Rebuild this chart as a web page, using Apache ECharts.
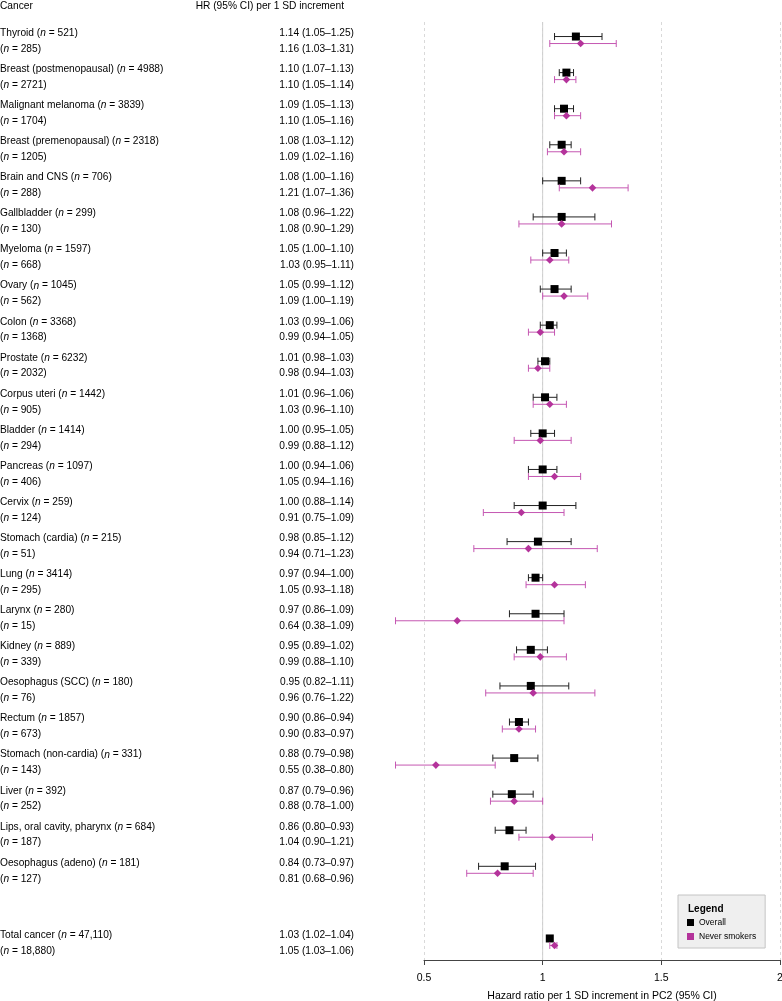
<!DOCTYPE html>
<html><head><meta charset="utf-8">
<script src="https://cdn.jsdelivr.net/npm/echarts@6/dist/echarts.min.js"></script>
<style>html,body{margin:0;padding:0;background:#fff}#c{width:782px;height:1001px}</style>
</head><body><div id="c"></div>
<script>
const cancers = ['Thyroid','Breast (postmenopausal)','Malignant melanoma','Breast (premenopausal)','Brain and CNS','Gallbladder','Myeloma','Ovary','Colon','Prostate','Corpus uteri','Bladder','Pancreas','Cervix','Stomach (cardia)','Lung','Larynx','Kidney','Oesophagus (SCC)','Rectum','Stomach (non-cardia)','Liver','Lips, oral cavity, pharynx','Oesophagus (adeno)','Total cancer'];
const nOverall = [521,4988,3839,2318,706,299,1597,1045,3368,6232,1442,1414,1097,259,215,3414,280,889,180,1857,331,392,684,181,47110];
const nNever   = [285,2721,1704,1205,288,130,668,562,1368,2032,905,294,406,124,51,295,15,339,76,673,143,252,187,127,18880];
const hrOverall = [1.14,1.10,1.09,1.08,1.08,1.08,1.05,1.05,1.03,1.01,1.01,1.00,1.00,1.00,0.98,0.97,0.97,0.95,0.95,0.90,0.88,0.87,0.86,0.84,1.03];
const loOverall = [1.05,1.07,1.05,1.03,1.00,0.96,1.00,0.99,0.99,0.98,0.96,0.95,0.94,0.88,0.85,0.94,0.86,0.89,0.82,0.86,0.79,0.79,0.80,0.73,1.02];
const hiOverall = [1.25,1.13,1.13,1.12,1.16,1.22,1.10,1.12,1.06,1.03,1.06,1.05,1.06,1.14,1.12,1.00,1.09,1.02,1.11,0.94,0.98,0.96,0.93,0.97,1.04];
const hrNever = [1.16,1.10,1.10,1.09,1.21,1.08,1.03,1.09,0.99,0.98,1.03,0.99,1.05,0.91,0.94,1.05,0.64,0.99,0.96,0.90,0.55,0.88,1.04,0.81,1.05];
const loNever = [1.03,1.05,1.05,1.02,1.07,0.90,0.95,1.00,0.94,0.94,0.96,0.88,0.94,0.75,0.71,0.93,0.38,0.88,0.76,0.83,0.38,0.78,0.90,0.68,1.03];
const hiNever = [1.31,1.14,1.16,1.16,1.36,1.29,1.11,1.19,1.05,1.03,1.10,1.12,1.16,1.09,1.23,1.18,1.09,1.10,1.22,0.97,0.80,1.00,1.21,0.96,1.06];
const xTicks = [0.5, 1, 1.5, 2];
const refValue = 1;
const seriesNames = ['Overall', 'Never smokers'];

// category rows: one blank slot before the total
const nC = cancers.length;
const rowCats = cancers.slice(0, -1).concat([' '], cancers.slice(-1));
const rowToCancer = rowCats.map((c, r) => r < nC - 1 ? r : (r === nC - 1 ? -1 : nC - 1));
const cancerRow = cancers.map((c, i) => i < nC - 1 ? i : i + 1);

const FONT = '"Liberation Sans", Arial, Helvetica, sans-serif';
const BLACK = '#000000', MAG = '#b4339b', MAGLINE = '#c557b2';
const FS = 10.2;
const fmtN = n => n >= 10000 ? n.toLocaleString('en-US') : String(n);
const f2 = v => v.toFixed(2);
const fmtHR = (h, l, u) => f2(h) + ' (' + f2(l) + '\u2013' + f2(u) + ')';

const chart = echarts.init(document.getElementById('c'), null, {renderer: 'canvas'});

function makeRender(kind, dy, lineColor) {
  return function (params, api) {
    const row = api.value(3);
    const c = api.coord([api.value(0), row]);
    const lo = api.coord([api.value(1), row]);
    const hi = api.coord([api.value(2), row]);
    const y = c[1] + dy;
    const cap = 3.5;
    const ls = {stroke: lineColor, lineWidth: 1};
    const children = [
      {type: 'line', shape: {x1: lo[0], y1: y, x2: hi[0], y2: y}, style: ls},
      {type: 'line', shape: {x1: lo[0], y1: y - cap, x2: lo[0], y2: y + cap}, style: ls},
      {type: 'line', shape: {x1: hi[0], y1: y - cap, x2: hi[0], y2: y + cap}, style: ls}
    ];
    if (kind === 'square') {
      children.push({type: 'rect', shape: {x: c[0] - 4, y: y - 4, width: 8, height: 8}, style: {fill: api.visual('color')}});
    } else {
      const s = 3.8;
      children.push({type: 'polygon', shape: {points: [[c[0], y - s], [c[0] + s, y], [c[0], y + s], [c[0] - s, y]]}, style: {fill: api.visual('color')}});
    }
    return {type: 'group', children};
  };
}

function renderRef(params, api) {
  const cs = params.coordSys;
  const p = api.coord([api.value(0), 0]);
  return {type: 'line', shape: {x1: p[0], y1: cs.y, x2: p[0], y2: cs.y + cs.height},
    style: {stroke: '#cfcfcf', lineWidth: 1}};
}

const dataOverall = cancers.map((c, i) => [hrOverall[i], loOverall[i], hiOverall[i], cancerRow[i]]);
const dataNever = cancers.map((c, i) => [hrNever[i], loNever[i], hiNever[i], cancerRow[i]]);

const baseRich = {
  a: {fontSize: FS, fontFamily: FONT, color: '#000', lineHeight: 15.8},
  i: {fontSize: FS, fontFamily: FONT, color: '#000', lineHeight: 15.8, fontStyle: 'italic'}
};

chart.setOption({
  animation: false,
  textStyle: {fontFamily: FONT},
  grid: {left: 424, right: 2, top: 22, bottom: 41, containLabel: false, outerBoundsMode: 'none'},
  xAxis: {
    type: 'value', min: xTicks[0], max: xTicks[xTicks.length - 1], interval: 0.5,
    axisLine: {show: true, lineStyle: {color: '#444', width: 1}},
    axisTick: {show: true, length: 5, lineStyle: {color: '#444'}},
    axisLabel: {fontSize: 10.5, color: '#000', margin: 13, fontFamily: FONT,
      formatter: v => String(v)},
    splitLine: {show: true, showMinLine: true, showMaxLine: true, lineStyle: {color: '#d9d9d9', type: [3, 3], width: 1}},
    name: 'Hazard ratio per 1 SD increment in PC2 (95% CI)', nameLocation: 'middle', nameGap: 31,
    nameTextStyle: {fontSize: 10.5, color: '#000', fontFamily: FONT}
  },
  yAxis: [{
    type: 'category', data: rowCats, inverse: true, position: 'left',
    axisLine: {show: false}, axisTick: {show: false}, splitLine: {show: false},
    axisLabel: {
      margin: 424, align: 'left', interval: 0, rich: baseRich, padding: [2, 0, 0, 0],
      formatter: (v, idx) => {
        const ci = rowToCancer[idx];
        if (ci < 0) return '';
        return '{a|' + cancers[ci] + ' (}{i|n}{a| = ' + fmtN(nOverall[ci]) + ')}\n{a|(}{i|n}{a| = ' + fmtN(nNever[ci]) + ')}';
      }
    }
  }, {
    type: 'category', data: rowCats, inverse: true, position: 'left',
    axisLine: {show: false}, axisTick: {show: false}, splitLine: {show: false},
    axisLabel: {
      margin: 70, align: 'right', interval: 0, rich: baseRich, padding: [2, 0, 0, 0],
      formatter: (v, idx) => {
        const ci = rowToCancer[idx];
        if (ci < 0) return '';
        return '{a|' + fmtHR(hrOverall[ci], loOverall[ci], hiOverall[ci]) + '}\n{a|' + fmtHR(hrNever[ci], loNever[ci], hiNever[ci]) + '}';
      }
    }
  }],
  legend: {
    data: seriesNames, orient: 'vertical', left: 678, top: 895,
    icon: 'rect', itemWidth: 7, itemHeight: 7, itemGap: 5,
    backgroundColor: '#efefef', borderColor: '#c4c4c4', borderWidth: 1,
    padding: [23, 9, 7, 9],
    textStyle: {fontSize: 8.5, color: '#000', fontFamily: FONT},
    selectedMode: false
  },
  graphic: [
    {type: 'text', x: 0, y: 6, style: {text: 'Cancer', font: FS + 'px ' + FONT, fill: '#000', verticalAlign: 'middle'}},
    {type: 'text', x: 344, y: 6, style: {text: 'HR (95% CI) per 1 SD increment', font: FS + 'px ' + FONT, fill: '#000', align: 'right', verticalAlign: 'middle'}},
    {type: 'text', x: 688, y: 909, z: 10, style: {text: 'Legend', font: 'bold 10px ' + FONT, fill: '#000', verticalAlign: 'middle'}}
  ],
  series: [{
    name: 'ref', type: 'custom', clip: false, silent: true, z: 1,
    renderItem: renderRef, encode: {x: 0, y: 1}, data: [[refValue, 0]]
  }, {
    name: seriesNames[0], type: 'custom', clip: false, z: 3,
    itemStyle: {color: BLACK},
    renderItem: makeRender('square', -3.5, '#222'),
    encode: {x: 0, y: 3},
    data: dataOverall
  }, {
    name: seriesNames[1], type: 'custom', clip: false, z: 4,
    itemStyle: {color: MAG},
    renderItem: makeRender('diamond', 3.5, MAGLINE),
    encode: {x: 0, y: 3},
    data: dataNever
  }]
});
</script></body></html>
